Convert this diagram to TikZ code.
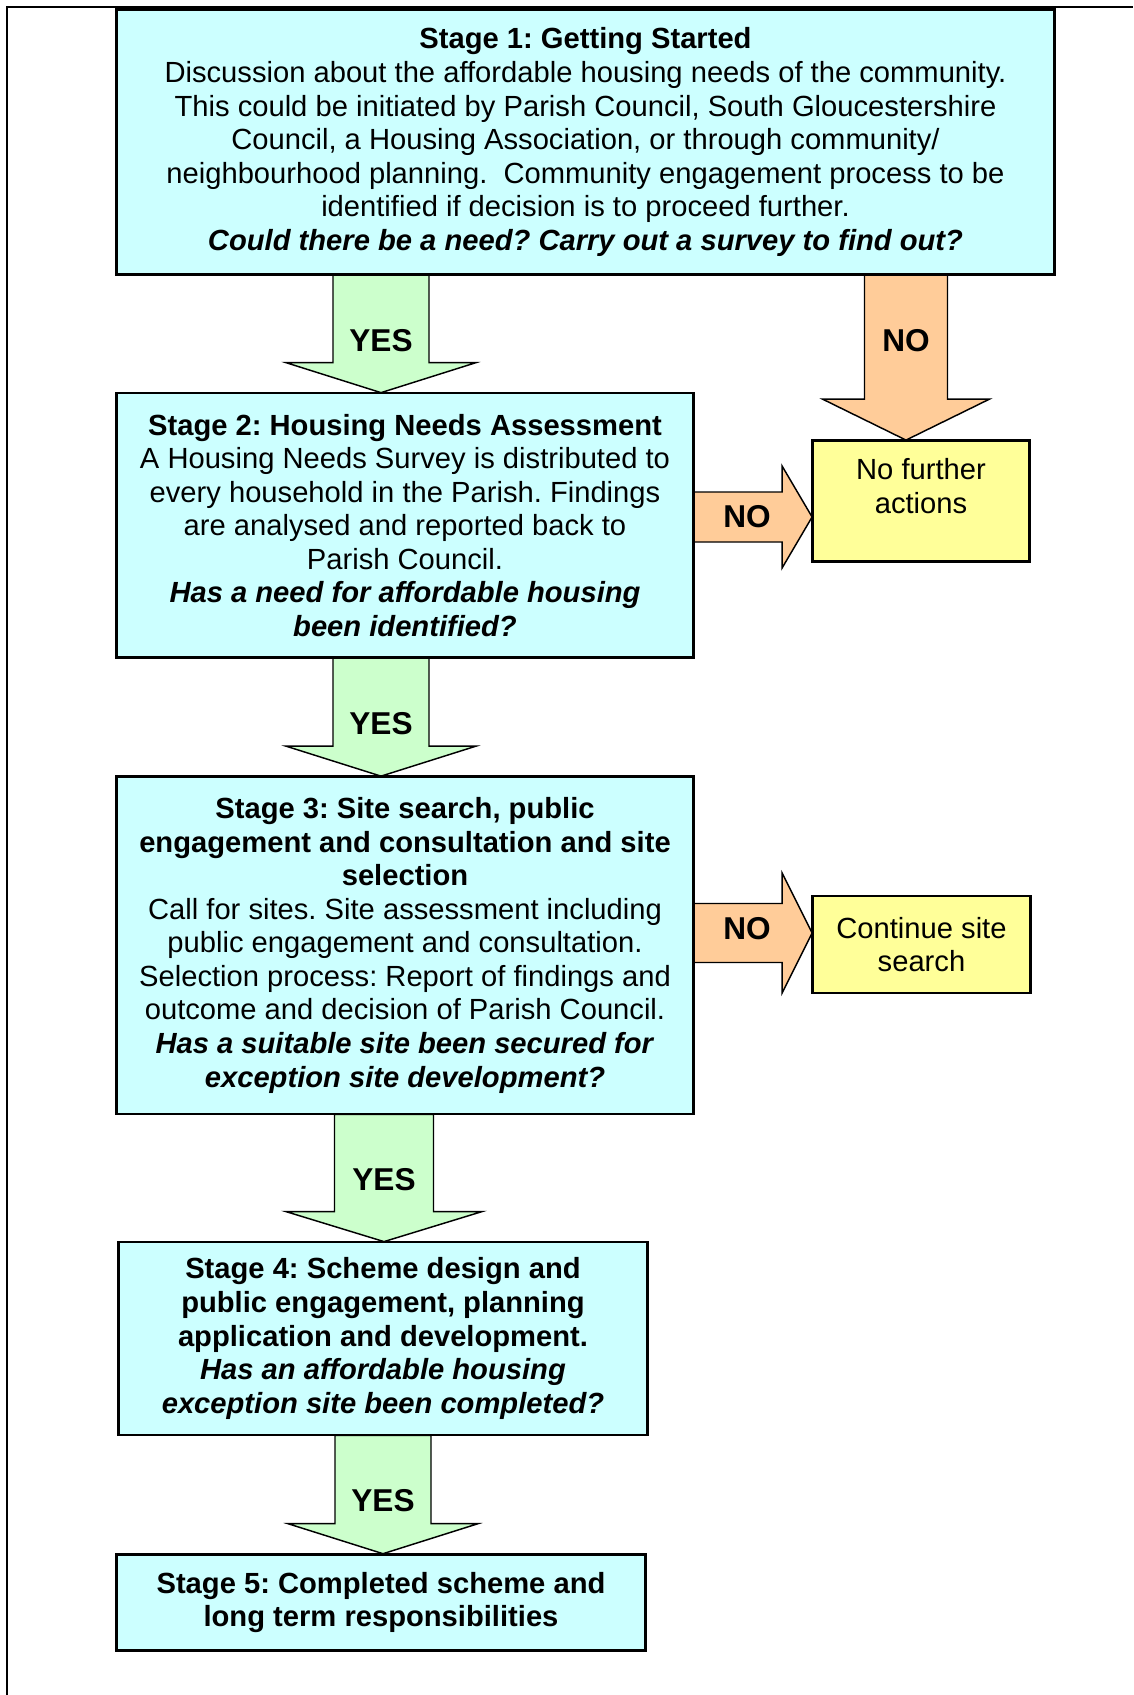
\documentclass[tikz,border=0pt]{standalone}
\usepackage{fontspec}
\setmainfont{Liberation Sans}
\usetikzlibrary{calc}
\definecolor{stagecyan}{HTML}{CCFFFF}
\definecolor{yesgreen}{HTML}{CCFFCC}
\definecolor{noorange}{HTML}{FFCC99}
\definecolor{actyellow}{HTML}{FFFF99}
\newcommand\upx{0.4115pt}
% #1 style, #2 top coord, #3 tip coord, #4 shaft half width, #5 head half width, #6 head length
\newcommand\DownBlock[6]{%
  \draw[#1] ($(#2)+(-#4,0)$) -- ($(#3)+(-#4,-#6)$) -- ($(#3)+(-#5,-#6)$) -- (#3)
    -- ($(#3)+(#5,-#6)$) -- ($(#3)+(#4,-#6)$) -- ($(#2)+(#4,0)$) -- cycle;}
\newcommand\RightBlock[6]{%
  \draw[#1] ($(#2)+(0,-#4)$) -- ($(#3)+(-#6,-#4)$) -- ($(#3)+(-#6,-#5)$) -- (#3)
    -- ($(#3)+(-#6,#5)$) -- ($(#3)+(-#6,#4)$) -- ($(#2)+(0,#4)$) -- cycle;}
\frenchspacing
\begin{document}
\begin{tikzpicture}[x=0.4115pt,y=-0.4115pt,
  sized/.style 2 args={minimum width=#1*\upx, minimum height=#2*\upx},
  stagebox/.style={draw=black, line width=0.75pt, fill=stagecyan, inner sep=0pt,
    align=center, font=\fontsize{12}{13.8}\selectfont},
  actbox/.style={draw=black, line width=0.75pt, fill=actyellow, inner sep=0pt,
    align=center, font=\fontsize{12}{13.8}\selectfont},
  plaintext/.style={inner sep=0pt, align=center, font=\fontsize{12}{13.8}\selectfont},
  yesarrow/.style={draw=black, line width=0.6pt, fill=yesgreen, line join=miter},
  noarrow/.style={draw=black, line width=0.6pt, fill=noorange, line join=miter},
  arrowlabel/.style={inner sep=0pt, font=\fontsize{13}{15}\selectfont\bfseries}]
\useasboundingbox (0,0) rectangle (1133,1695);
\fill[white] (0,0) rectangle (1133,1695);
% outer frame
\draw[line width=1pt] (7,1695) -- (7,7) -- (1133,7);

\path
  (585.5,142) node[stagebox, sized={937}{264}] (s1) {%
    \textbf{Stage 1: Getting Started}\\
    Discussion about the affordable housing needs of the community.\\
    This could be initiated by Parish Council, South Gloucestershire\\
    Council, a Housing Association, or through community/\\
    neighbourhood planning.\ \ Community engagement process to be\\
    identified if decision is to proceed further.\\
    \textbf{\textit{Could there be a need? Carry out a survey to find out?}}}
  (405,525.3) node[stagebox, sized={576}{263.5}] (s2) {%
    \textbf{Stage 2: Housing Needs Assessment}\\
    A Housing Needs Survey is distributed to\\
    every household in the Parish. Findings\\
    are analysed and reported back to\\
    Parish Council.\\
    \textbf{\textit{Has a need for affordable housing}}\\
    \textbf{\textit{been identified?}}}
  (405,945.3) node[stagebox, sized={576}{336.5}] (s3) {%
    \textbf{Stage 3: Site search, public}\\
    \textbf{engagement and consultation and site}\\
    \textbf{selection}\\
    Call for sites. Site assessment including\\
    public engagement and consultation.\\
    Selection process: Report of findings and\\
    outcome and decision of Parish Council.\\
    \textbf{\textit{Has a suitable site been secured for}}\\
    \textbf{\textit{exception site development?}}}
  (383,1338.5) node[stagebox, sized={528}{192}] (s4) {%
    \textbf{Stage 4: Scheme design and}\\
    \textbf{public engagement, planning}\\
    \textbf{application and development.}\\
    \textbf{\textit{Has an affordable housing}}\\
    \textbf{\textit{exception site been completed?}}}
  (381,1602.3) node[stagebox, sized={528}{95.4}] (s5) {%
    \textbf{Stage 5: Completed scheme and}\\
    \textbf{long term responsibilities}}
  (921,501) node[actbox, sized={216}{120}] (nfa) {}
  (921.5,944.5) node[actbox, sized={217}{96}] (css) {Continue site\\search};
\node[plaintext] (nfaT) at (921,486) {No further\\actions};

% reference coordinates for arrow axes
\coordinate (ax1) at (381,0);
\coordinate (ax2) at (381,0);
\coordinate (ax3) at (384,0);
\coordinate (ax4) at (383,0);
\coordinate (axN) at (906,0);
\coordinate (ay2) at (0,517);
\coordinate (ay3) at (0,933);

\coordinate (y1t) at (ax1 |- s1.south);
\coordinate (y1p) at (ax1 |- s2.north);
\coordinate (y2t) at (ax2 |- s2.south);
\coordinate (y2p) at (ax2 |- s3.north);
\coordinate (y3t) at (ax3 |- s3.south);
\coordinate (y3p) at (ax3 |- s4.north);
\coordinate (y4t) at (ax4 |- s4.south);
\coordinate (y4p) at (ax4 |- s5.north);
\coordinate (n1t) at (axN |- s1.south);
\coordinate (n1p) at (axN |- nfa.north);
\coordinate (n2s) at (s2.east |- ay2);
\coordinate (n2p) at (nfa.west |- ay2);
\coordinate (n3s) at (s3.east |- ay3);
\coordinate (n3p) at (css.west |- ay3);

\DownBlock{yesarrow}{y1t}{y1p}{48}{95}{30}
\DownBlock{yesarrow}{y2t}{y2p}{48}{95}{30}
\DownBlock{yesarrow}{y3t}{y3p}{49.5}{98}{30}
\DownBlock{yesarrow}{y4t}{y4p}{48}{95}{30}
\DownBlock{noarrow}{n1t}{n1p}{41.5}{83.5}{41}
\RightBlock{noarrow}{n2s}{n2p}{25}{51}{30}
\RightBlock{noarrow}{n3s}{n3p}{29.5}{60}{30}

% redraw box borders on top
\foreach \b in {s1,s2,s3,s4,s5,nfa,css}{
  \draw[line width=0.75pt] (\b.south west) rectangle (\b.north east);}

% arrow labels
\node[arrowlabel] (l1) at (381,340.5) {YES};
\node[arrowlabel] (l2) at (906,340.5) {NO};
\node[arrowlabel] (l3) at (747,517) {NO};
\node[arrowlabel] (l4) at (381,724) {YES};
\node[arrowlabel] (l5) at (747,929) {NO};
\node[arrowlabel] (l6) at (384,1179.5) {YES};
\node[arrowlabel] (l7) at (383,1500.6) {YES};
\end{tikzpicture}
\end{document}
